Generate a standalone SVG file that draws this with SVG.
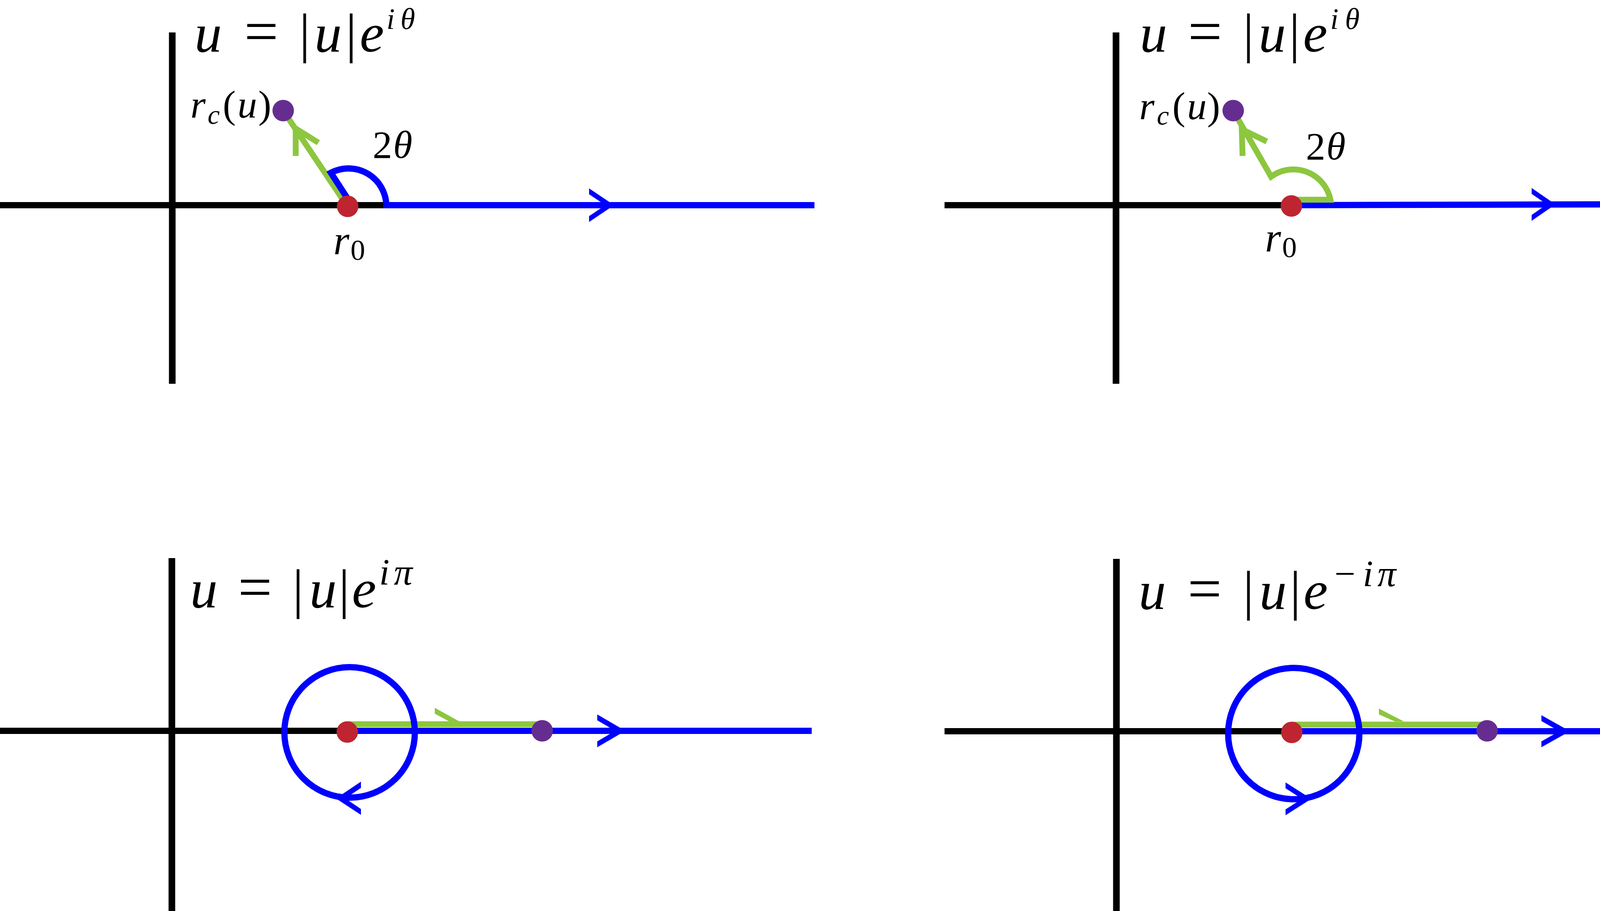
<svg xmlns="http://www.w3.org/2000/svg" width="4504" height="2331" viewBox="0 0 4504 2331">
<style>
.ax{stroke:#000;stroke-width:16;fill:none}
.axv{stroke:#000;stroke-width:17;fill:none}
.bl{stroke:#0000FF;stroke-width:16;fill:none;stroke-linejoin:miter}
.gr{stroke:#8DC63F;stroke-width:15;fill:none;stroke-linejoin:miter}
.blf{fill:#0000FF}
.grf{fill:#8DC63F}
.red{fill:#BE2530}
.pur{fill:#662D91}
.t{font-family:"Liberation Serif","DejaVu Serif",serif;font-style:italic;fill:#000;text-anchor:middle}
.up{font-style:normal}
.eq{font-style:normal;font-size:155px}
</style>
<rect width="4504" height="2331" fill="#fff"/>

<g id="panel-top-left">
  <g id="axes-tl">
    <line class="axv" x1="441" y1="83" x2="441" y2="982"/>
    <line class="ax" x1="0" y1="525" x2="990" y2="525"/>
  </g>
  <g id="connectors-tl">
    <line class="gr" x1="888" y1="526" x2="725" y2="283"/>
    <polyline class="gr" points="815,365 757,329 757,399"/>
    <path class="bl" d="M893,513 L847,442 A97 97 0 0 1 989,525 L2085,525"/>
    <polygon class="blf" points="1508,482 1572,525 1508,568 1508,553 1550,525 1508,497"/>
  </g>
  <g id="points-tl">
    <circle class="red" cx="890" cy="528" r="27.5"/>
    <circle class="pur" cx="725" cy="283" r="27.5"/>
  </g>
  <g id="labels-tl">
    <text class="t" y="132" font-size="140"><tspan x="533">u</tspan><tspan class="eq" x="669">=</tspan><tspan class="up" x="780">|</tspan><tspan x="840">u</tspan><tspan class="up" x="899">|</tspan><tspan x="952">e</tspan></text>
    <text class="t" y="74" font-size="76"><tspan x="1000">i</tspan><tspan x="1044">θ</tspan></text>
    <text class="t" y="301" font-size="100"><tspan x="507">r</tspan><tspan x="547" y="317" font-size="70">c</tspan><tspan class="up" x="587" y="301">(</tspan><tspan x="633">u</tspan><tspan class="up" x="678">)</tspan></text>
    <text class="t" y="404" font-size="100"><tspan class="up" x="979">2</tspan><tspan x="1031">θ</tspan></text>
    <text class="t" y="650" font-size="105"><tspan x="874">r</tspan><tspan class="up" x="916" y="665" font-size="75">0</tspan></text>
  </g>
</g>

<g id="panel-top-right">
  <g id="axes-tr">
    <line class="axv" x1="2857" y1="83" x2="2857" y2="982"/>
    <line class="ax" x1="2418" y1="525" x2="3310" y2="525"/>
  </g>
  <g id="connectors-tr">
    <line class="bl" x1="3300" y1="525" x2="4504" y2="522"/>
    <polygon class="blf" points="3921,481 3982,523 3921,565 3921,550 3960,523 3921,496"/>
    <path class="gr" d="M3157,283 L3254,452 A97 97 0 0 1 3406,511 L3310,511"/>
    <polyline class="gr" points="3243,362 3179,331 3181,399"/>
  </g>
  <g id="points-tr">
    <circle class="red" cx="3306" cy="527" r="27.5"/>
    <circle class="pur" cx="3157" cy="283" r="27.5"/>
  </g>
  <g id="labels-tr">
    <text class="t" y="132" font-size="140"><tspan x="2953">u</tspan><tspan class="eq" x="3085">=</tspan><tspan class="up" x="3196">|</tspan><tspan x="3257">u</tspan><tspan class="up" x="3314">|</tspan><tspan x="3367">e</tspan></text>
    <text class="t" y="74" font-size="76"><tspan x="3416">i</tspan><tspan x="3462">θ</tspan></text>
    <text class="t" y="305" font-size="100"><tspan x="2936">r</tspan><tspan x="2977" y="319" font-size="70">c</tspan><tspan class="up" x="3018" y="305">(</tspan><tspan x="3064">u</tspan><tspan class="up" x="3107">)</tspan></text>
    <text class="t" y="408" font-size="100"><tspan class="up" x="3368">2</tspan><tspan x="3420">θ</tspan></text>
    <text class="t" y="643" font-size="105"><tspan x="3259">r</tspan><tspan class="up" x="3301" y="658" font-size="75">0</tspan></text>
  </g>
</g>

<g id="panel-bottom-left">
  <g id="axes-bl">
    <line class="axv" x1="440" y1="1428" x2="440" y2="2331"/>
    <line class="ax" x1="0" y1="1870" x2="895" y2="1870"/>
  </g>
  <g id="connectors-bl">
    <line class="bl" x1="889" y1="1870" x2="2078" y2="1870"/>
    <polygon class="blf" points="1529,1828 1601,1870 1529,1912 1529,1897 1575,1870 1529,1843"/>
    <line class="gr" x1="893" y1="1853" x2="1388" y2="1853" stroke-width="16"/>
    <polygon class="grf" points="1113,1811 1176,1846 1150,1846 1113,1826"/>
    <circle class="bl" cx="895" cy="1874" r="167"/>
    <polygon class="blf" points="924,2000 860,2043 924,2085 924,2070 884,2043 924,2016"/>
  </g>
  <g id="points-bl">
    <circle class="red" cx="889" cy="1873" r="27.5"/>
    <circle class="pur" cx="1388" cy="1870" r="27.5"/>
  </g>
  <g id="labels-bl">
    <text class="t" y="1554" font-size="140"><tspan x="522">u</tspan><tspan class="eq" x="653">=</tspan><tspan class="up" x="763">|</tspan><tspan x="827">u</tspan><tspan class="up" x="881">|</tspan><tspan x="932">e</tspan></text>
    <text class="t" y="1496" font-size="95"><tspan x="984">i</tspan><tspan x="1032">π</tspan></text>
  </g>
</g>

<g id="panel-bottom-right">
  <g id="axes-br">
    <line class="axv" x1="2858" y1="1430" x2="2858" y2="2331"/>
    <line class="ax" x1="2418" y1="1871" x2="3312" y2="1871"/>
  </g>
  <g id="connectors-br">
    <line class="bl" x1="3307" y1="1871" x2="4494" y2="1871"/>
    <polygon class="blf" points="3946,1830 4019,1871 3946,1912 3946,1897 3992,1871 3946,1845"/>
    <line class="gr" x1="3314" y1="1854" x2="3807" y2="1854" stroke-width="16"/>
    <polygon class="grf" points="3530,1813 3594,1846 3571,1846 3530,1828"/>
    <circle class="bl" cx="3312" cy="1877" r="168"/>
    <polygon class="blf" points="3291,2002 3357,2044 3291,2086 3291,2071 3333,2044 3291,2017"/>
  </g>
  <g id="points-br">
    <circle class="red" cx="3307" cy="1874" r="27.5"/>
    <circle class="pur" cx="3807" cy="1870" r="27.5"/>
  </g>
  <g id="labels-br">
    <text class="t" y="1558" font-size="140"><tspan x="2950">u</tspan><tspan class="eq" x="3084">=</tspan><tspan class="up" x="3196">|</tspan><tspan x="3259">u</tspan><tspan class="up" x="3316">|</tspan><tspan x="3368">e</tspan></text>
    <text class="t" y="1500" font-size="95"><tspan class="up" x="3443">−</tspan><tspan x="3502">i</tspan><tspan x="3550">π</tspan></text>
  </g>
</g>
</svg>
